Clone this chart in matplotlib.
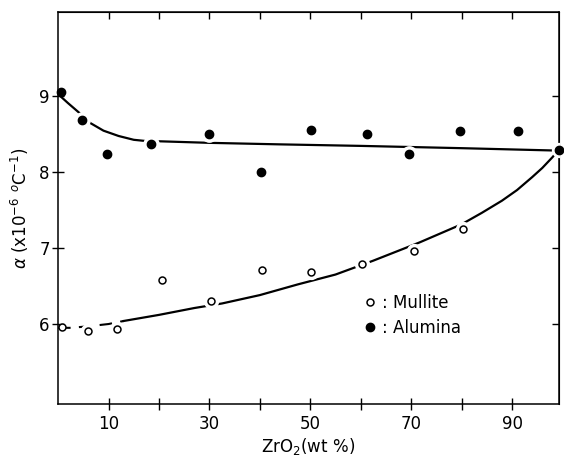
import matplotlib
matplotlib.use("Agg")
import matplotlib.pyplot as plt
from matplotlib.lines import Line2D

# measured points
mullite_x = [0.7, 5.9, 11.6, 20.7, 30.3, 40.5, 50.1, 60.2, 70.5, 80.2, 99.3]
mullite_y = [5.96, 5.91, 5.93, 6.58, 6.30, 6.71, 6.68, 6.79, 6.96, 7.25, 8.28]
alumina_x = [0.5, 4.8, 9.6, 18.5, 30.0, 40.2, 50.1, 61.2, 69.5, 79.6, 91.2, 99.3]
alumina_y = [9.05, 8.68, 8.23, 8.37, 8.49, 8.00, 8.55, 8.50, 8.24, 8.53, 8.53, 8.28]

# hand-drawn trend curves
mul_curve_x = [0, 2.5, 6, 10, 13, 20, 27, 32.5, 40, 47.5, 55, 62.4, 71.6, 80, 84, 88, 91, 94, 96, 98, 99.3]
mul_curve_y = [5.95, 5.95, 5.97, 6.00, 6.04, 6.12, 6.21, 6.27, 6.38, 6.52, 6.65, 6.83, 7.07, 7.31, 7.46, 7.62, 7.76, 7.93, 8.05, 8.19, 8.29]
alu_curve_x = [0, 2, 4.1, 6.4, 9, 12, 15, 18, 20.3, 30, 44, 60, 80, 98, 99.3]
alu_curve_y = [9.02, 8.90, 8.78, 8.64, 8.54, 8.47, 8.42, 8.40, 8.40, 8.38, 8.36, 8.34, 8.31, 8.28, 8.27]

xticks = [10, 20, 30, 40, 50, 60, 70, 80, 90]
xticklabels = ['10', '', '30', '', '50', '', '70', '', '90']
yticks = [6, 7, 8, 9]

fig = plt.figure(figsize=(5.64, 4.58), dpi=100)
ax = fig.add_axes([0.103, 0.118, 0.888, 0.856])

# curves: mullite dashed at the low end, then solid
ax.plot(mul_curve_x[:5], mul_curve_y[:5], color='black', lw=1.5, ls=(0, (6, 4)))
ax.plot(mul_curve_x[4:], mul_curve_y[4:], color='black', lw=1.6)
ax.plot(alu_curve_x, alu_curve_y, color='black', lw=1.6)

# white halos to break the lines around the markers
ax.plot(mullite_x[1:], mullite_y[1:], 'o', ms=10, color='white', zorder=3)
ax.plot(alumina_x[1:-1], alumina_y[1:-1], 'o', ms=11, color='white', zorder=3)

ax.plot(mullite_x, mullite_y, 'o', ms=5, mfc='white', mec='black', mew=1.1, zorder=4)
ax.plot(alumina_x, alumina_y, 'o', ms=6, color='black', zorder=5, clip_on=False)

ax.set_xlim(0, 99.3)
ax.set_ylim(4.95, 10.1)
ax.set_xticks(xticks)
ax.set_xticklabels(xticklabels)
ax.set_yticks(yticks)

ax.tick_params(axis='both', labelsize=12, width=1, length=8, direction='inout',
               top=False, right=False)
ax.tick_params(axis='x', pad=4)
ax.tick_params(axis='y', pad=2)
# inward ticks on the top and right sides
ax2 = ax.secondary_xaxis('top')
ax2.set_xticks(xticks)
ax2.tick_params(direction='in', length=5, width=1, labeltop=False)
ax3 = ax.secondary_yaxis('right')
ax3.set_yticks(yticks)
ax3.tick_params(direction='in', length=5, width=1, labelright=False)

for s in ax.spines.values():
    s.set_linewidth(1.1)

ax.set_xlabel('ZrO$_2$(wt %)', fontsize=12, labelpad=2)
ax.set_ylabel(r'$\alpha$ (x10$^{-6}$ $^{o}$C$^{-1}$)', fontsize=12, labelpad=6)

handles = [
    Line2D([], [], ls='none', marker='o', ms=5, mfc='white', mec='black', mew=1.1),
    Line2D([], [], ls='none', marker='o', ms=6, color='black'),
]
ax.legend(handles, [': Mullite', ': Alumina'], loc='upper left',
          bbox_to_anchor=(0.58, 0.32), frameon=False, fontsize=12,
          handlelength=0.8, handletextpad=0.3, labelspacing=0.45)

fig.savefig('out.png', dpi=100)
